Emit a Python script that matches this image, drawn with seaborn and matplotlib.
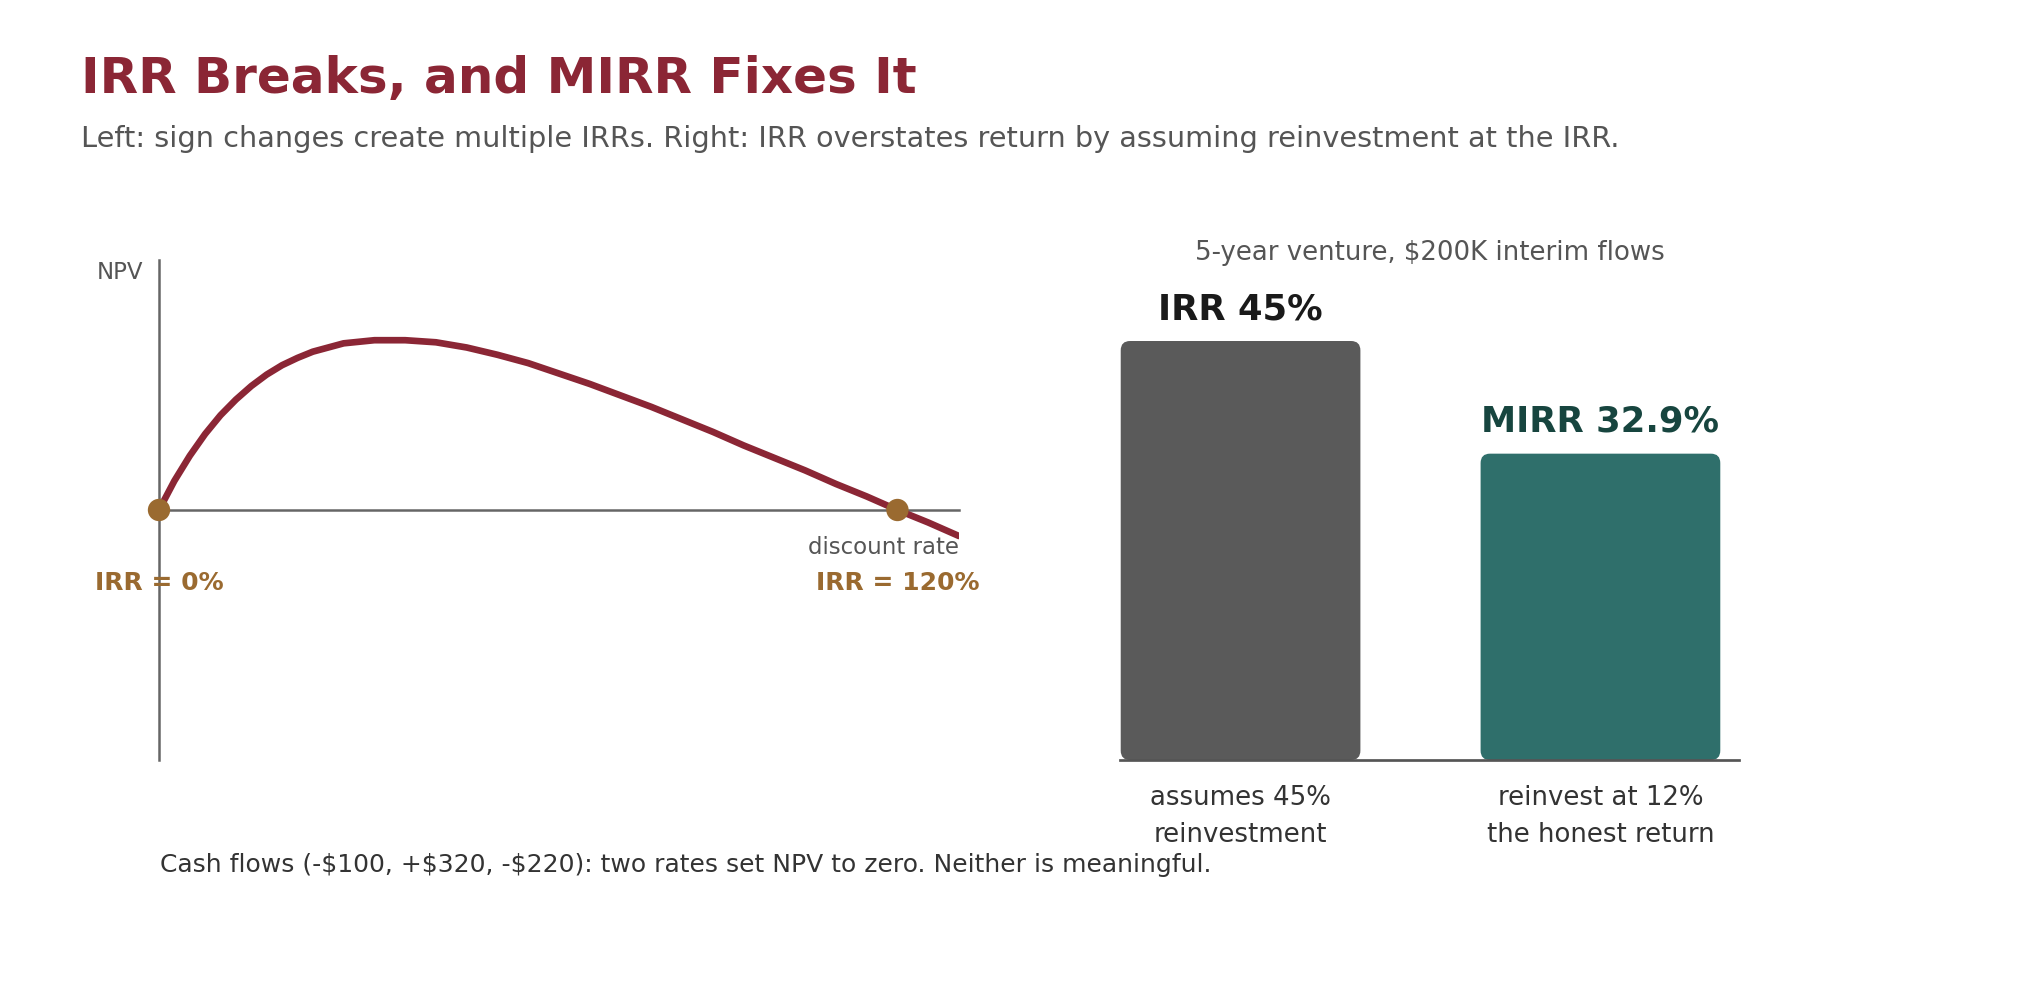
import numpy as np
import pandas as pd
import matplotlib.pyplot as plt
import seaborn as sns
from matplotlib.patches import FancyBboxPatch

sns.set_style("white")
plt.rcParams["font.family"] = ["DejaVu Sans"]

# left panel: NPV profile for cash flows (-100, +320, -220)
rates = [0.000, 0.025, 0.050, 0.075, 0.100, 0.125, 0.150, 0.175, 0.200, 0.225,
         0.25, 0.30, 0.35, 0.40, 0.45,
         0.50, 0.55, 0.60, 0.65, 0.70, 0.75, 0.80, 0.85, 0.90, 0.95,
         1.00, 1.05, 1.10, 1.15, 1.20, 1.25, 1.30]
npv = [0.0, 2.8, 5.2, 7.3, 9.1, 10.6, 11.9, 13.0, 13.9, 14.6,
       15.2, 16.0, 16.3, 16.3, 16.1,
       15.6, 14.9, 14.1, 13.1, 12.1, 11.0, 9.9, 8.7, 7.5, 6.2,
       5.0, 3.8, 2.5, 1.3, 0.0, -1.2, -2.5]
irr_rates = [0.0, 1.2]
irr_npv = [0.0, 0.0]
irr_labels = ["IRR = 0%", "IRR = 120%"]

# right panel: IRR vs MIRR
methods = ["assumes 45%\nreinvestment", "reinvest at 12%\nthe honest return"]
returns = [45, 32.9]
value_labels = ["IRR 45%", "MIRR 32.9%"]

RED = "#8B2635"
GOLD = "#9A6A30"
GREY_BAR = "#5A5A5A"
TEAL = "#2F6F6B"
DARK_TEAL = "#17453F"
TXT = "#555555"
DARK = "#333333"

fig = plt.figure(figsize=(13.6, 6.6667), dpi=150)
ax1 = fig.add_axes([159 / 2040, 0.24, 800 / 2040, 0.5])
ax2 = fig.add_axes([1120 / 2040, 0.24, 619 / 2040, 0.5])

# --- left: NPV curve
curve = pd.DataFrame({"rate": rates, "npv": npv})
sns.lineplot(data=curve, x="rate", y="npv", ax=ax1, color=RED, lw=3.2, zorder=3)
sns.scatterplot(x=irr_rates, y=irr_npv, ax=ax1, color=GOLD, s=115,
                edgecolor="none", zorder=5, clip_on=False)
ax1.set_xlim(0, 1.3)
ax1.set_ylim(-24, 24)
for s in ["top", "right"]:
    ax1.spines[s].set_visible(False)
ax1.spines["bottom"].set_position(("data", 0))
for s in ["left", "bottom"]:
    ax1.spines[s].set_color("#666666")
    ax1.spines[s].set_linewidth(1.2)
ax1.set_xticks([])
ax1.set_yticks([])
ax1.set_xlabel("")
ax1.set_ylabel("")

ax1.text(-0.02, 0.962, "NPV", transform=ax1.transAxes, ha="right", va="baseline",
         fontsize=11, color=TXT)
ax1.text(1.3, -3.6, "discount rate", ha="right", va="center", fontsize=11, color=TXT)
for r, lab in zip(irr_rates, irr_labels):
    ax1.text(r, -7.0, lab, ha="center", va="center", fontsize=12,
             fontweight="bold", color=GOLD)

# --- right: bars
bars = pd.DataFrame({"method": methods, "ret": returns})
sns.barplot(data=bars, x="method", y="ret", hue="method", palette=[GREY_BAR, TEAL],
            width=0.666, ax=ax2, legend=False, saturation=1)
ax2.set_xlim(-0.335, 1.385)
ax2.set_ylim(0, 53.7)

# swap plain bars for rounded ones
xpx = 619 / (1.385 + 0.335)
ypx = 500 / 53.7
for p in list(ax2.patches):
    x, y, w, h = p.get_x(), p.get_y(), p.get_width(), p.get_height()
    fc = p.get_facecolor()
    p.remove()
    ax2.add_patch(FancyBboxPatch((x, y), w, h,
                                 boxstyle="round,pad=0,rounding_size=0.026",
                                 mutation_aspect=xpx / ypx, fc=fc, ec="none", zorder=2))

for i, (v, lab) in enumerate(zip(returns, value_labels)):
    ax2.text(i, v + 1.6, lab, ha="center", va="bottom", fontsize=17,
             fontweight="bold", color="#1A1A1A" if i == 0 else DARK_TEAL)

for s in ["top", "right", "left"]:
    ax2.spines[s].set_visible(False)
ax2.spines["bottom"].set_color("#555555")
ax2.spines["bottom"].set_linewidth(1.3)
ax2.spines["bottom"].set_zorder(3)
ax2.set_xticks([0, 1])
ax2.set_xticklabels(methods, fontsize=12.5, color=DARK, linespacing=1.55)
ax2.tick_params(axis="x", length=0, pad=12)
ax2.set_yticks([])
ax2.set_xlabel("")
ax2.set_ylabel("")
ax2.set_title("5-year venture, $200K interim flows", fontsize=12.5, color=TXT, pad=0)

# --- headline texts
fig.text(81 / 2040, 0.907, "IRR Breaks, and MIRR Fixes It", fontsize=24,
         fontweight="bold", color=RED, va="baseline")
fig.text(81 / 2040, 0.853,
         "Left: sign changes create multiple IRRs. Right: IRR overstates return by "
         "assuming reinvestment at the IRR.",
         fontsize=13.8, color=TXT, va="baseline")
fig.text(160 / 2040, 0.128,
         "Cash flows (-$100, +$320, -$220): two rates set NPV to zero. Neither is meaningful.",
         fontsize=12, color=DARK, va="baseline")

fig.savefig("out.png", dpi=150, facecolor="white")
